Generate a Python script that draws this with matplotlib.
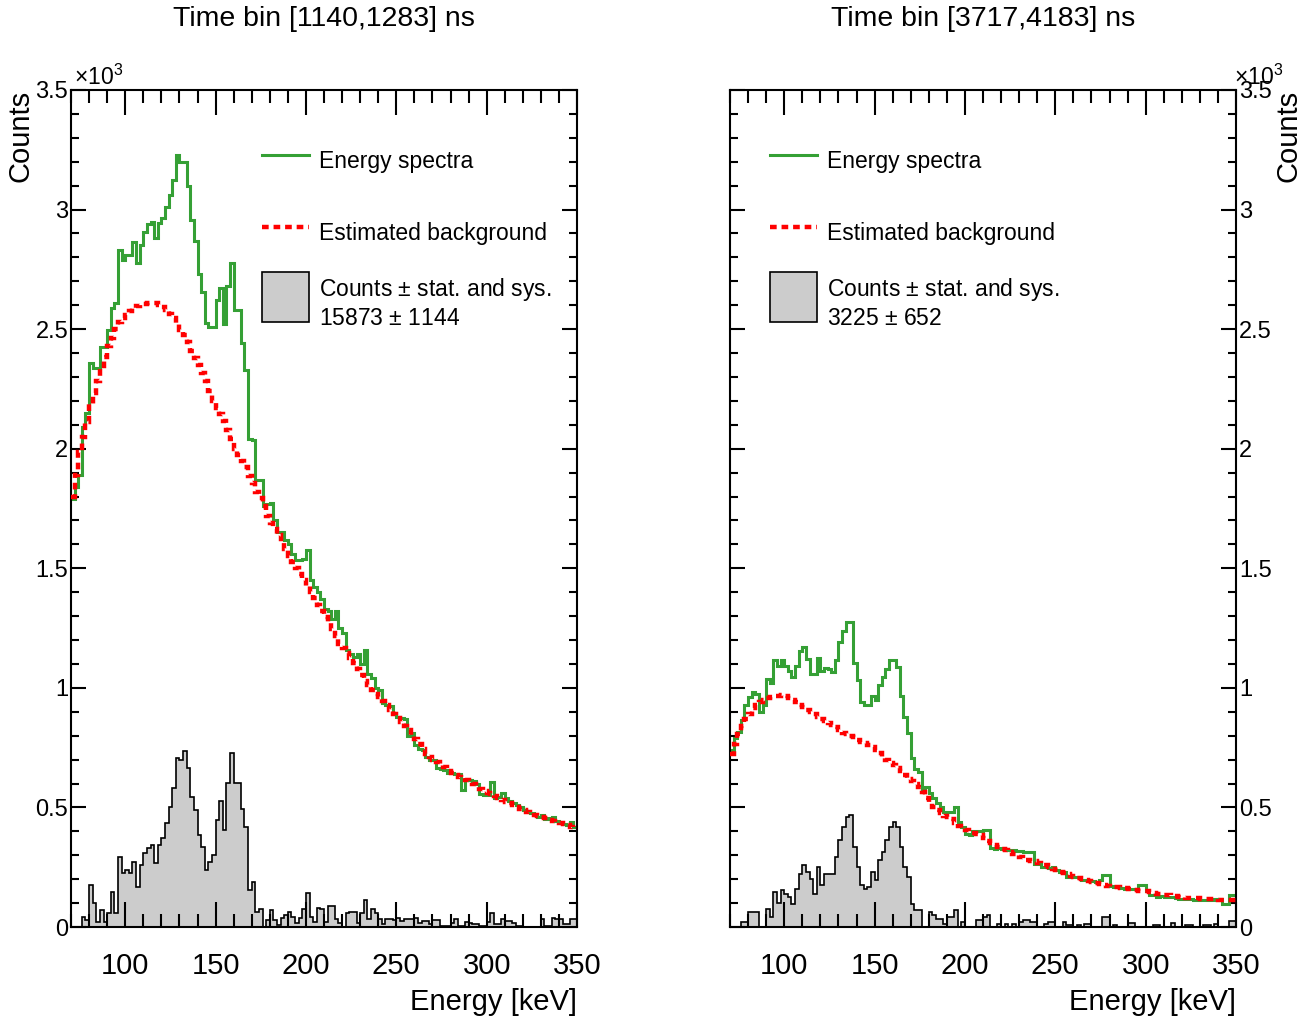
import numpy as np
import matplotlib
matplotlib.use("Agg")
import matplotlib.pyplot as plt
from matplotlib.ticker import MultipleLocator, FuncFormatter
from matplotlib.patches import Rectangle

plt.rcParams['font.family'] = ['Liberation Sans', 'DejaVu Sans']
plt.rcParams['mathtext.fontset'] = 'custom'
plt.rcParams['mathtext.rm'] = 'Liberation Sans'

# binning of the energy axis (keV)
e_min, e_max, bin_width = 70, 350, 2

# ---- left panel: time bin [1140,1283] ns ----
left_title = "Time bin [1140,1283] ns"
left_total = "15873 $\\pm$ 1144"
left_spectrum = [
    1790, 1840, 1890, 2092, 2148, 2358, 2337, 2337, 2427, 2427,
    2496, 2590, 2610, 2831, 2790, 2810, 2810, 2866, 2775, 2850,
    2907, 2939, 2950, 2880, 2945, 2964, 3009, 3061, 3123, 3228,
    3200, 3200, 3100, 2955, 2869, 2732, 2654, 2525, 2510, 2510,
    2622, 2672, 2521, 2681, 2776, 2580, 2580, 2442, 2329, 2040,
    2036, 1870, 1870, 1760, 1770, 1773, 1700, 1650, 1650, 1620,
    1600, 1560, 1535, 1535, 1540, 1577, 1450, 1420, 1400, 1370,
    1330, 1320, 1290, 1323, 1250, 1228, 1160, 1140, 1130, 1140,
    1100, 1160, 1060, 1040, 1000, 990, 935, 930, 925, 894,
    880, 872, 870, 800, 810, 760, 745, 740, 710, 700,
    700, 665, 660, 655, 646, 646, 640, 640, 573, 620,
    615, 612, 600, 555, 550, 550, 608, 540, 545, 560,
    540, 525, 520, 510, 500, 490, 485, 478, 470, 462,
    470, 450, 455, 460, 445, 440, 430, 425, 440, 420,
]
left_background = [
    1800, 1890, 1985, 2050, 2110, 2185, 2235, 2285, 2335, 2385,
    2430, 2465, 2500, 2530, 2548, 2560, 2575, 2587, 2596, 2602,
    2607, 2610, 2611, 2608, 2602, 2594, 2580, 2565, 2548, 2525,
    2498, 2475, 2445, 2410, 2380, 2348, 2318, 2285, 2240, 2200,
    2170, 2145, 2115, 2080, 2040, 2000, 1975, 1950, 1925, 1885,
    1855, 1820, 1795, 1760, 1720, 1690, 1665, 1640, 1610, 1580,
    1550, 1525, 1500, 1475, 1450, 1425, 1400, 1375, 1345, 1320,
    1295, 1272, 1245, 1215, 1185, 1165, 1145, 1125, 1105, 1080,
    1055, 1030, 1010, 992, 975, 960, 945, 928, 908, 890,
    872, 857, 842, 822, 800, 785, 766, 745, 725, 712,
    700, 690, 680, 668, 652, 642, 635, 628, 622, 614,
    607, 598, 588, 578, 570, 562, 555, 547, 540, 532,
    524, 517, 510, 502, 494, 488, 482, 476, 470, 464,
    459, 454, 449, 444, 440, 435, 430, 425, 420, 416,
]
left_counts = [
    0, 0, 0, 43, 30, 176, 100, 22, 71, 22,
    57, 148, 57, 294, 224, 238, 224, 273, 168, 259,
    308, 329, 343, 269, 343, 371, 433, 500, 580, 705,
    698, 737, 663, 545, 489, 384, 336, 238, 273, 301,
    447, 527, 406, 601, 729, 601, 604, 495, 417, 155,
    190, 63, 77, 0, 29, 71, 29, 8, 36, 50,
    63, 43, 15, 36, 75, 141, 43, 22, 78, 74,
    22, 88, 88, 32, 18, 0, 57, 64, 64, 18,
    57, 111, 32, 74, 57, 32, 14, 32, 32, 30,
    39, 25, 32, 32, 32, 39, 18, 25, 25, 11,
    28, 28, 4, 4, 4, 18, 32, 4, 4, 20,
    18, 11, 11, 4, 4, 20, 57, 11, 11, 32,
    25, 25, 18, 4, 4, 0, 0, 0, 0, 0,
    32, 4, 4, 39, 32, 32, 11, 11, 32, 32,
]

# ---- right panel: time bin [3717,4183] ns ----
right_title = "Time bin [3717,4183] ns"
right_total = "3225 $\\pm$ 652"
right_spectrum = [
    740, 789, 817, 866, 930, 963, 984, 975, 900, 930,
    1035, 1020, 1117, 1090, 1115, 1090, 1070, 1047, 1090, 1155,
    1170, 1120, 1060, 1060, 1126, 1070, 1085, 1080, 1068, 1115,
    1190, 1237, 1277, 1277, 1103, 1033, 942, 928, 928, 965,
    948, 1012, 1047, 1078, 1117, 1117, 1089, 968, 880, 810,
    705, 660, 650, 566, 587, 560, 540, 517, 500, 482,
    482, 482, 500, 440, 420, 390, 385, 400, 400, 400,
    405, 405, 330, 325, 330, 325, 322, 322, 320, 318,
    318, 315, 315, 312, 265, 265, 250, 252, 248, 250,
    238, 232, 232, 210, 212, 210, 208, 195, 195, 196,
    192, 190, 195, 216, 216, 170, 168, 167, 165, 160,
    160, 158, 160, 174, 174, 150, 132, 132, 125, 128,
    125, 124, 125, 120, 118, 118, 117, 115, 112, 112,
    113, 112, 112, 112, 118, 118, 98, 98, 132, 132,
]
right_background = [
    725, 767, 805, 840, 868, 890, 915, 930, 942, 950,
    957, 963, 966, 968, 970, 965, 958, 950, 940, 928,
    918, 908, 900, 890, 880, 870, 860, 852, 845, 838,
    825, 812, 805, 798, 793, 784, 775, 768, 760, 754,
    740, 726, 712, 698, 687, 677, 663, 652, 637, 620,
    610, 598, 587, 565, 540, 517, 503, 489, 475, 465,
    458, 450, 436, 422, 412, 405, 398, 392, 388, 385,
    372, 360, 350, 342, 335, 328, 321, 314, 306, 300,
    292, 283, 280, 277, 274, 268, 262, 258, 250, 243,
    237, 232, 226, 220, 215, 210, 206, 202, 198, 194,
    189, 185, 180, 176, 171, 169, 167, 166, 165, 162,
    159, 156, 154, 152, 151, 149, 146, 142, 140, 137,
    135, 132, 130, 128, 125, 124, 123, 122, 121, 120,
    119, 118, 117, 116, 116, 114, 114, 113, 112, 112,
]
right_counts = [
    0, 0, 0, 21, 21, 63, 63, 63, 0, 0,
    77, 42, 146, 100, 153, 140, 125, 98, 160, 223,
    258, 230, 202, 139, 251, 174, 223, 223, 223, 293,
    362, 418, 460, 467, 334, 251, 174, 160, 167, 230,
    195, 279, 313, 362, 418, 439, 418, 334, 251, 209,
    98, 70, 70, 0, 0, 63, 49, 35, 35, 14,
    42, 42, 70, 0, 21, 0, 0, 0, 28, 28,
    42, 49, 0, 0, 14, 0, 14, 0, 14, 0,
    21, 28, 28, 21, 21, 0, 0, 14, 21, 21,
    0, 0, 21, 10, 10, 0, 10, 0, 14, 14,
    0, 0, 0, 42, 42, 0, 10, 0, 0, 0,
    17, 17, 0, 0, 0, 0, 0, 10, 10, 0,
    0, 0, 17, 0, 0, 0, 10, 10, 0, 0,
    0, 10, 10, 0, 12, 0, 0, 0, 25, 25,
]

GREEN = '#35a035'
GRAY = '#cccccc'
edges = np.arange(e_min, e_max + bin_width, bin_width)

W, H = 1310, 1021
fig = plt.figure(figsize=(W / 100, H / 100), dpi=100)


def panel(x0, spectrum, background, counts, title, total, right_side):
    ax = fig.add_axes([x0 / W, (H - 927) / H, 506 / W, 837 / H])
    ax.stairs(counts, edges, fill=True, facecolor=GRAY, edgecolor='black', lw=1.2, zorder=1)
    ax.stairs(spectrum, edges, baseline=None, color=GREEN, lw=2.2, zorder=2)
    ax.stairs(background, edges, baseline=None, color='red', lw=3.2,
              linestyle=(0, (1.5, 1.1)), zorder=3)

    ax.set_xlim(e_min, e_max)
    ax.set_ylim(0, 3500)
    ax.xaxis.set_major_locator(MultipleLocator(50))
    ax.xaxis.set_minor_locator(MultipleLocator(10))
    ax.yaxis.set_major_locator(MultipleLocator(500))
    ax.yaxis.set_minor_locator(MultipleLocator(100))
    ax.yaxis.set_major_formatter(FuncFormatter(lambda v, p: f'{v / 1000:g}'))
    ax.tick_params(which='both', direction='in', top=True, right=True, width=1.5)
    ax.tick_params(axis='x', which='major', length=18, labelsize=21, pad=18)
    ax.tick_params(axis='x', which='minor', length=9.5)
    ax.tick_params(axis='y', which='major', length=11, labelsize=17, pad=2)
    ax.tick_params(axis='y', which='minor', length=6)
    for s in ax.spines.values():
        s.set_linewidth(1.5)

    ax.set_xlabel('Energy [keV]', loc='right', fontsize=21)
    ax.xaxis.set_label_coords(1.0, -0.073)
    if right_side:
        ax.tick_params(axis='y', labelleft=False, labelright=True)
        ax.yaxis.set_label_position('right')
        ax.set_ylabel('Counts', loc='top', fontsize=21)
        ax.yaxis.set_label_coords(1.077, 1.0)
        ax.text(0.996, 1.006, '×$\\mathregular{10^{3}}$', transform=ax.transAxes,
                fontsize=16.5, ha='left', va='baseline')
        lx0, lx1, tx = 0.079, 0.172, 0.192
    else:
        ax.set_ylabel('Counts', loc='top', fontsize=21)
        ax.yaxis.set_label_coords(-0.073, 1.0)
        ax.text(0.006, 1.006, '×$\\mathregular{10^{3}}$', transform=ax.transAxes,
                fontsize=16.5, ha='left', va='baseline')
        lx0, lx1, tx = 0.378, 0.470, 0.490

    fig.text((x0 + 253) / W, 1 - 19 / H, title, ha='center', va='center', fontsize=20.5)

    # legend
    ax.plot([lx0, lx1], [0.922, 0.922], transform=ax.transAxes, color=GREEN, lw=2.2)
    ax.text(tx, 0.914, 'Energy spectra', transform=ax.transAxes, va='center', fontsize=16.5)
    ax.plot([lx0, lx1], [0.836, 0.836], transform=ax.transAxes, color='red', lw=3.2,
            linestyle=(0, (1.5, 1.1)))
    ax.text(tx, 0.828, 'Estimated background', transform=ax.transAxes, va='center', fontsize=16.5)
    ax.add_patch(Rectangle((lx0, 0.723), lx1 - lx0, 0.060, transform=ax.transAxes,
                           facecolor=GRAY, edgecolor='black', lw=1.2))
    ax.text(tx, 0.762, 'Counts $\\pm$ stat. and sys.', transform=ax.transAxes,
            va='center', fontsize=16.5)
    ax.text(tx, 0.727, total, transform=ax.transAxes, va='center', fontsize=16.5)
    return ax


panel(71, left_spectrum, left_background, left_counts, left_title, left_total, False)
panel(730, right_spectrum, right_background, right_counts, right_title, right_total, True)

fig.savefig('out.png', dpi=100)
